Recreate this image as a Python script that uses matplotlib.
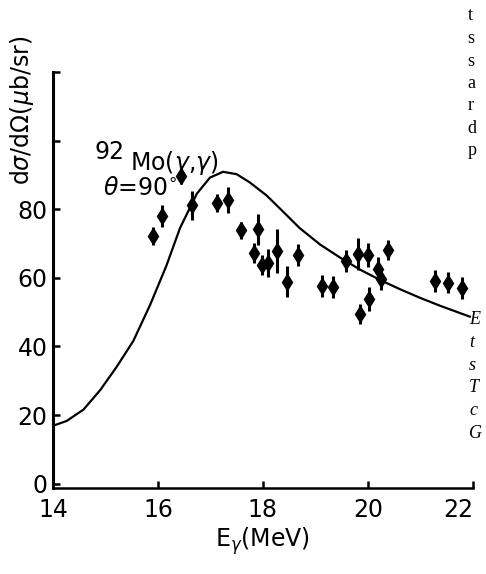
import numpy as np
import matplotlib
matplotlib.use("Agg")
import matplotlib.pyplot as plt

energia = [15.90, 16.07, 16.43, 16.65, 17.12, 17.33, 17.58, 17.90, 17.83,
           17.98, 18.09, 18.26, 18.45, 18.67, 19.13, 19.34, 19.59, 19.82,
           20.01, 20.38, 20.20, 20.25, 20.02, 19.85, 21.28, 21.53, 21.80]
sigma = [72.3, 78.0, 89.7, 81.1, 81.8, 82.6, 73.8, 74.1, 67.3,
         63.7, 64.3, 67.8, 58.9, 66.6, 57.6, 57.3, 64.9, 66.9,
         66.6, 68.1, 62.7, 59.7, 53.8, 49.4, 59.2, 58.6, 57.0]
err = [2.6, 3.2, 2.4, 4.3, 2.7, 3.8, 2.6, 4.5, 3.0,
       3.0, 4.0, 6.5, 4.5, 3.2, 3.2, 3.2, 3.2, 4.6,
       3.5, 2.9, 3.5, 3.2, 3.4, 2.9, 3.2, 3.0, 3.2]

# Curva teorica
curva_x = [14.0, 14.26, 14.58, 14.90, 15.21, 15.53, 15.85, 16.16, 16.42,
           16.74, 16.99, 17.24, 17.50, 17.75, 18.07, 18.39, 18.70, 19.09,
           19.47, 19.85, 20.23, 20.61, 20.99, 21.37, 21.94]
curva_y = [16.9, 18.3, 21.6, 27.3, 34.0, 41.6, 52.1, 63.5, 74.5,
           84.5, 89.2, 90.9, 90.2, 87.8, 84.0, 79.2, 74.5, 69.7,
           65.9, 62.4, 59.4, 56.7, 54.2, 51.9, 48.7]

xticks = [14, 16, 18, 20, 22]
yticks = [0, 20, 40, 60, 80, 100, 120]
ytick_labels = ["0", "20", "40", "60", "80", "", ""]

plt.rcParams["font.family"] = ["DejaVu Sans"]

fig = plt.figure(figsize=(4.86, 5.74), dpi=100)
ax = fig.add_axes([0.109, 0.150, 0.864, 0.7247])

ax.plot(curva_x, curva_y, color="black", linewidth=1.6,
        solid_joinstyle="round")
ax.errorbar(energia, sigma, yerr=err, fmt="d", color="black",
            markersize=8, elinewidth=2.2, capsize=0)

ax.set_xlim(14, 22)
ax.set_ylim(-1.2, 120)
ax.set_xticks(xticks)
ax.set_yticks(yticks)
ax.set_yticklabels(ytick_labels)

ax.spines["top"].set_visible(False)
ax.spines["right"].set_visible(False)
ax.spines["left"].set_linewidth(2.2)
ax.spines["bottom"].set_linewidth(1.8)
ax.tick_params(axis="both", direction="in", length=5, width=1.8,
               labelsize=17)
ax.tick_params(axis="y", pad=4)
ax.tick_params(axis="x", pad=7)
# el "22" queda pegado al borde derecho
ax.get_xticklabels()[-1].set_horizontalalignment("right")
ax.get_xticklabels()[-1].set_x(22.3)

# Etiquetas
ax.set_xlabel(r"E$_\gamma$(MeV)", fontsize=17, labelpad=3)
fig.text(0.045, 0.808, r"d$\sigma$/d$\Omega$($\mu$b/sr)", rotation=90,
         fontsize=17, ha="center", va="center")

ax.text(14.80, 94.6, "92", fontsize=17, va="baseline")
ax.text(15.47, 91.4, r"Mo($\gamma$,$\gamma$)", fontsize=17, va="baseline")
ax.text(14.95, 84.0, r"$\theta$=90$^{\circ}$", fontsize=17, va="baseline")

# Texto de la pagina vecina
derecha = ["t", "s", "s", "a", "r", "d", "p"]
for i, letra in enumerate(derecha):
    fig.text(0.962, 1 - (16 + 22.5 * i) / 574, letra, fontsize=13,
             family="Liberation Serif", va="center")
abajo = ["E", "t", "s", "T", "c", "G"]
for i, letra in enumerate(abajo):
    fig.text(0.965, 1 - (320 + 22.6 * i) / 574, letra, fontsize=13,
             family="Liberation Serif", style="italic", va="center")

plt.savefig("out.png", dpi=100)
